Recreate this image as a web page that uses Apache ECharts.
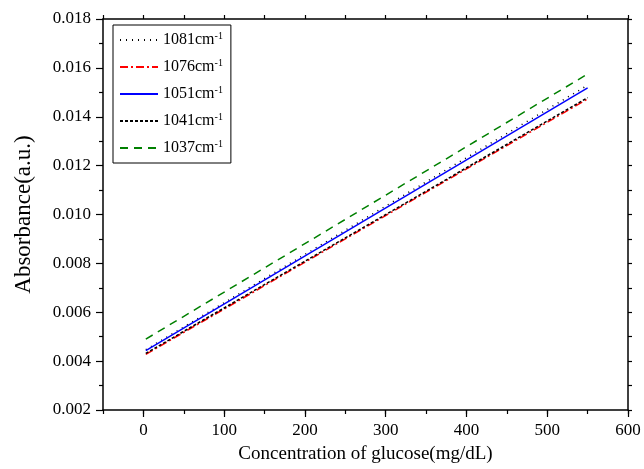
<!DOCTYPE html>
<html>
<head>
<meta charset="utf-8">
<script src="https://cdn.jsdelivr.net/npm/echarts@6/dist/echarts.min.js"></script>
<style>
  html, body { margin: 0; padding: 0; background: #fff; }
  #chart { width: 644px; height: 469px; }
</style>
</head>
<body>
<div id="chart"></div>
<script>
// concentration endpoints of the fitted lines (mg/dL)
const concentration = [3, 550]
const seriesNames = ['1081', '1076', '1051', '1041', '1037']
// absorbance at each endpoint
const abs1081 = [0.00447, 0.01529]
const abs1076 = [0.00428, 0.01473]
const abs1051 = [0.00443, 0.01518]
const abs1041 = [0.00432, 0.01478]
const abs1037 = [0.00490, 0.01575]
const xLabels = [0, 100, 200, 300, 400, 500, 600]

const values = [abs1081, abs1076, abs1051, abs1041, abs1037]
const colors = ['#000', '#ff0000', '#0000ff', '#000', '#008000']
const dashes = [[1, 5], [8, 3, 2, 3], 'solid', [3, 2], [8, 6]]

const font = 'Liberation Serif'
const chart = echarts.init(document.getElementById('chart'))

const axisLine = { show: true, onZero: false, lineStyle: { color: '#000', width: 1.5 } }
const tickStyle = { color: '#000', width: 1.2 }

const option = {
  animation: false,
  backgroundColor: '#fff',
  grid: { left: 103, right: 16, top: 19, bottom: 59 },
  legend: {
    orient: 'vertical',
    left: 113,
    top: 25,
    padding: [6, 8, 7, 6],
    itemGap: 10,
    itemWidth: 38,
    itemHeight: 14,
    borderColor: '#000',
    borderWidth: 1,
    backgroundColor: '#fff',
    itemStyle: { opacity: 0 },
    formatter: (name) => name + '{c|cm}{s|-1}',
    textStyle: {
      fontFamily: font, fontSize: 16, color: '#000',
      rich: {
        c: { fontFamily: font, fontSize: 16, color: '#000' },
        s: { fontFamily: font, fontSize: 10, color: '#000', verticalAlign: 'top', padding: [0, 0, 8, 0] }
      }
    }
  },
  xAxis: [
    {
      type: 'value', min: -50, max: 600, interval: 50,
      name: 'Concentration of glucose(mg/dL)',
      nameLocation: 'middle', nameGap: 35,
      nameTextStyle: { fontFamily: font, fontSize: 19, color: '#000' },
      axisLine,
      axisTick: { show: true, length: 7, customValues: xLabels, lineStyle: tickStyle },
      axisLabel: { customValues: xLabels, fontFamily: font, fontSize: 17, color: '#000', margin: 12 },
      splitLine: { show: false }
    },
    {
      type: 'value', min: -50, max: 600, interval: 50, position: 'bottom',
      axisLine: { show: false },
      axisTick: { show: true, length: 4, lineStyle: tickStyle },
      axisLabel: { show: false },
      splitLine: { show: false }
    },
    {
      type: 'value', min: -50, max: 600, interval: 50, position: 'top',
      axisLine,
      axisTick: { show: true, length: 4, lineStyle: tickStyle },
      axisLabel: { show: false },
      splitLine: { show: false }
    }
  ],
  yAxis: [
    {
      type: 'value', min: 0.002, max: 0.018, interval: 0.002,
      name: 'Absorbance(a.u.)',
      nameLocation: 'middle', nameGap: 68,
      nameTextStyle: { fontFamily: font, fontSize: 23, color: '#000' },
      axisLine,
      axisTick: { show: true, length: 7, lineStyle: tickStyle },
      minorTick: { show: true, splitNumber: 2, length: 4, lineStyle: tickStyle },
      axisLabel: { fontFamily: font, fontSize: 17, color: '#000', margin: 12, formatter: (v) => v.toFixed(3) },
      splitLine: { show: false }
    },
    {
      type: 'value', min: 0.002, max: 0.018, interval: 0.002, position: 'right',
      axisLine,
      axisTick: { show: true, length: 4, lineStyle: tickStyle },
      minorTick: { show: true, splitNumber: 2, length: 4, lineStyle: tickStyle },
      axisLabel: { show: false },
      splitLine: { show: false }
    }
  ],
  series: seriesNames.map((name, i) => ({
    name,
    type: 'line',
    xAxisIndex: 0,
    yAxisIndex: 0,
    symbol: 'none',
    data: concentration.map((x, j) => [x, values[i][j]]),
    lineStyle: { color: colors[i], width: 1.5, type: dashes[i] },
    itemStyle: { color: colors[i] }
  }))
}

chart.setOption(option)
</script>
</body>
</html>
